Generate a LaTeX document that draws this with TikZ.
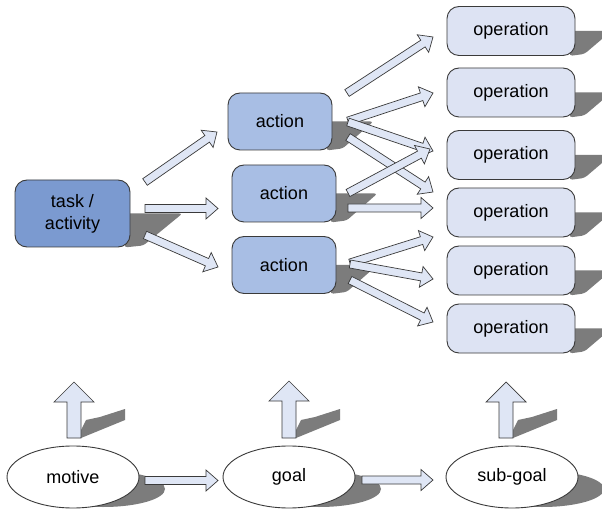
\documentclass[tikz,border=0pt]{standalone}
\usepackage{fontspec}
\setmainfont{Liberation Sans}
\usetikzlibrary{calc,shapes.geometric}
\definecolor{taskfill}{HTML}{7B9AD0}
\definecolor{actfill}{HTML}{A8BEE4}
\definecolor{opfill}{HTML}{DDE3F3}
\definecolor{arrfill}{HTML}{DFE6F5}
\definecolor{edgecol}{HTML}{3A3A3A}
\definecolor{shadecol}{HTML}{7C7C7C}
\tikzset{
  box/.style={draw=edgecol, line width=0.9pt, rounded corners=12pt, inner sep=0pt, align=center, font=\fontsize{18}{22}\selectfont},
  taskbox/.style={box, fill=taskfill, minimum width=115pt, minimum height=67pt},
  actbox/.style={box, fill=actfill, minimum width=104pt, minimum height=57pt},
  opbox/.style={box, fill=opfill, minimum width=128pt, minimum height=49pt},
  oval/.style={ellipse, draw=edgecol, line width=0.9pt, fill=white, minimum width=132pt, minimum height=62pt, inner sep=0pt, font=\fontsize{18}{22}\selectfont},
  shadowfill/.style={fill=shadecol},
  arrowbody/.style={draw=edgecol, line width=0.7pt, fill=arrfill, line join=miter},
}
% from, to, half shaft, half head, head length
\newcommand\blockarrow[5]{%
  \coordinate (hb) at ($(#2)!#5!(#1)$);
  \path[arrowbody] ($(#1)!#3!90:(#2)$) -- ($(hb)!#3!90:(#2)$) -- ($(hb)!#4!90:(#2)$) -- (#2) -- ($(hb)!#4!-90:(#2)$) -- ($(hb)!#3!-90:(#2)$) -- ($(#1)!#3!-90:(#2)$) -- cycle;
}
\newcommand\flatarrow[2]{\blockarrow{#1}{#2}{4pt}{10.5pt}{12pt}}
% node, shadow length
\newcommand\boxshadow[2]{%
  \path[shadowfill, rounded corners=3pt] ($(#1.east)+(-6,0)$) -- ($(#1.east)+(#2,0)$) -- ($(#1.south east)+(0.25*#2,-2)$) -- ($(#1.south east)+(-6,0)$) -- cycle;
}
\newcommand\ovalshadow[1]{%
  \path[shadowfill] ($(#1.center)+(30,12)$) ellipse [x radius=62pt, y radius=18pt];
}
\newcommand\upshadow[1]{%
  \path[shadowfill] ($(#1)+(7,0)$) -- ($(#1)+(51,-18)$) -- ($(#1)+(51,-29)$) -- ($(#1)+(26,-21)$) -- ($(#1)+(12,-18)$) -- ($(#1)+(7,-8)$) -- cycle;
}
\begin{document}
\begin{tikzpicture}[x=1pt,y=-1pt]
\clip (0,0) rectangle (602,510);
\fill[white] (0,0) rectangle (602,510);
% node placement (drawn later)
\path
  (72.5,213.5) coordinate (Ptask)
  (280,121.5) coordinate (Pa1)
  (284,193.5) coordinate (Pa2)
  (284,265) coordinate (Pa3)
  (511,31) coordinate (Po1)
  (511,92.5) coordinate (Po2)
  (511,155) coordinate (Po3)
  (511,212.5) coordinate (Po4)
  (511,270.5) coordinate (Po5)
  (511,328.5) coordinate (Po6)
  (73,477) coordinate (Pm)
  (289,477) coordinate (Pg)
  (512,477) coordinate (Ps);
% phantom nodes for shadow geometry
\path node[taskbox, draw=none, fill=none] (task) at (Ptask) {\phantom{x}}
      node[actbox, draw=none, fill=none] (a1) at (Pa1) {}
      node[actbox, draw=none, fill=none] (a2) at (Pa2) {}
      node[actbox, draw=none, fill=none] (a3) at (Pa3) {}
      node[opbox, draw=none, fill=none] (o1) at (Po1) {}
      node[opbox, draw=none, fill=none] (o2) at (Po2) {}
      node[opbox, draw=none, fill=none] (o3) at (Po3) {}
      node[opbox, draw=none, fill=none] (o4) at (Po4) {}
      node[opbox, draw=none, fill=none] (o5) at (Po5) {}
      node[opbox, draw=none, fill=none] (o6) at (Po6) {};
% shadows
\boxshadow{task}{52}
\boxshadow{a1}{41}
\boxshadow{a2}{41}
\boxshadow{a3}{41}
\boxshadow{o1}{36}
\boxshadow{o2}{36}
\boxshadow{o3}{36}
\boxshadow{o4}{36}
\boxshadow{o5}{36}
\boxshadow{o6}{36}
\ovalshadow{Pm}
\ovalshadow{Pg}
\ovalshadow{Ps}
% arrow end points
\coordinate (ta1s) at (145,182);   \coordinate (ta1e) at (217,132);
\coordinate (ta2s) at (145,208.5); \coordinate (ta2e) at (218,208.5);
\coordinate (ta3s) at (145,235);   \coordinate (ta3e) at (218,267);
\coordinate (a1o1s) at (347,93);   \coordinate (a1o1e) at (433,37);
\coordinate (a1o2s) at (348,121);  \coordinate (a1o2e) at (433,93);
\coordinate (a1o3s) at (348,122);  \coordinate (a1o3e) at (433,151);
\coordinate (a1o4s) at (348,137);  \coordinate (a1o4e) at (433,192);
\coordinate (a2o3s) at (348,193);  \coordinate (a2o3e) at (430,149);
\coordinate (a2o4s) at (348,208);  \coordinate (a2o4e) at (433,208);
\coordinate (a3o5s) at (350,263);  \coordinate (a3o5e) at (433,237);
\coordinate (a3o5bs) at (350,264); \coordinate (a3o5be) at (433,279);
\coordinate (a3o6s) at (350,280);  \coordinate (a3o6e) at (433,322);
\coordinate (mgs) at (145,480.5);  \coordinate (mge) at (218,480.5);
\coordinate (gss) at (362,480);    \coordinate (gse) at (433,480);
\coordinate (u1s) at (74,438);     \coordinate (u1e) at (74,382);
\coordinate (u2s) at (289,438);    \coordinate (u2e) at (289,381);
\coordinate (u3s) at (506,438);    \coordinate (u3e) at (506,382);
% up-arrow shadows
\upshadow{u1s}
\upshadow{u2s}
\upshadow{u3s}
% arrows
\flatarrow{ta1s}{ta1e}
\flatarrow{ta2s}{ta2e}
\flatarrow{ta3s}{ta3e}
\flatarrow{a1o1s}{a1o1e}
\flatarrow{a1o2s}{a1o2e}
\flatarrow{a1o4s}{a1o4e}
\flatarrow{a1o3s}{a1o3e}
\flatarrow{a2o3s}{a2o3e}
\flatarrow{a2o4s}{a2o4e}
\flatarrow{a3o5s}{a3o5e}
\flatarrow{a3o5bs}{a3o5be}
\flatarrow{a3o6s}{a3o6e}
\flatarrow{mgs}{mge}
\flatarrow{gss}{gse}
\blockarrow{u1s}{u1e}{7pt}{20pt}{20pt}
\blockarrow{u2s}{u2e}{7pt}{20pt}{20pt}
\blockarrow{u3s}{u3e}{7pt}{20pt}{20pt}
% nodes
\node[taskbox] (taskN) at (Ptask) {task /\\activity};
\node[actbox] (a1N) at (Pa1) {action};
\node[actbox] (a2N) at (Pa2) {action};
\node[actbox] (a3N) at (Pa3) {action};
\node[opbox] (o1N) at (Po1) {operation};
\node[opbox] (o2N) at (Po2) {operation};
\node[opbox] (o3N) at (Po3) {operation};
\node[opbox] (o4N) at (Po4) {operation};
\node[opbox] (o5N) at (Po5) {operation};
\node[opbox] (o6N) at (Po6) {operation};
\node[oval] (motive) at (Pm) {motive};
\node[oval] (goal) at (Pg) {goal};
\node[oval] (subgoal) at (Ps) {sub-goal};
\end{tikzpicture}
\end{document}
